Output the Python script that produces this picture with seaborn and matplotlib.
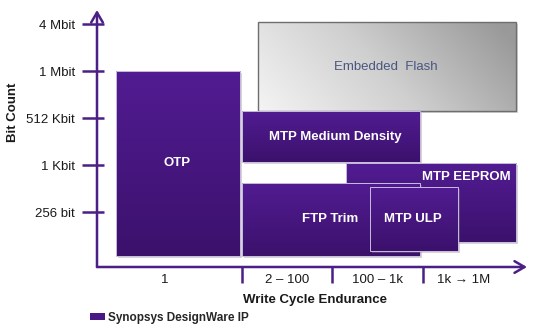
import numpy as np
import matplotlib
matplotlib.use("Agg")
import matplotlib.pyplot as plt
import matplotlib.patheffects as pe
from matplotlib.colors import LinearSegmentedColormap
from matplotlib.patches import Patch
import seaborn as sns

# ---------------- data ----------------
categories = ["1", "2 – 100", "100 – 1k", "1k → 1M"]
cat_bounds = [0.0, 1.6, 2.6, 3.6, 4.6]
cat_label_pos = [0.75, 2.1, 3.1, 4.05]
bit_labels = ["256 bit", "1 Kbit", "512 Kbit", "1 Mbit", "4 Mbit"]
bit_pos = [0, 1, 2, 3, 4]

blocks = ["Embedded  Flash", "OTP", "MTP Medium Density", "MTP EEPROM", "FTP Trim", "MTP ULP"]
x_start = [1.78, 0.21, 1.60, 2.75, 1.60, 3.02]
x_end = [4.63, 1.58, 3.57, 4.63, 3.57, 3.99]
y_low = [2.15, -0.94, 1.06, -0.64, -0.94, -0.83]
y_high = [4.04, 3.00, 2.15, 1.04, 0.62, 0.53]
is_designware = [False, True, True, True, True, True]
label_x = [3.19, 0.88, 2.63, 4.08, 2.57, 3.49]
label_y = [3.09, 1.04, 1.60, 0.745, -0.15, -0.15]

# ---------------- style ----------------
sns.set_theme(style="white")
plt.rcParams["font.family"] = ["Liberation Sans", "DejaVu Sans"]

AX = "#4b1f86"
PURPLE = "#481886"
purple_cmap = LinearSegmentedColormap.from_list("p", ["#3b116c", "#521c92"])
gray_cmap = LinearSegmentedColormap.from_list("g", ["#f4f4f4", "#cfcfcf", "#999999"])

fig = plt.figure(figsize=(5.39, 3.33), dpi=100)
ax = fig.add_axes([97 / 539, 66 / 333, 430 / 539, 257 / 333])
XMAX, YMIN, YMAX = 4.75, -1.17, 4.30

widths = np.subtract(x_end, x_start)
heights = np.subtract(y_high, y_low)
face = [PURPLE if d else "#cccccc" for d in is_designware]

bars = ax.bar(x_start, heights, width=widths, bottom=y_low, align="edge",
              color=face, linewidth=0)
outl = ax.bar(x_start, heights, width=widths, bottom=y_low, align="edge",
              fill=False,
              edgecolor=["#6e6e6e" if not d else "#c9bddf" for d in is_designware],
              linewidth=[1.0 if not d else 0.7 for d in is_designware])

for i, (b, o) in enumerate(zip(bars, outl)):
    z = 2 + i
    b.set_zorder(z)
    b.set_path_effects([pe.SimplePatchShadow(offset=(1.5, -1.5), shadow_rgbFace="#888888", alpha=0.35), pe.Normal()])
    ext = (x_start[i], x_end[i], y_low[i], y_high[i])
    if is_designware[i]:
        arr = np.linspace(0, 1, 128).reshape(-1, 1)
        im = ax.imshow(arr, extent=ext, origin="lower", cmap=purple_cmap, aspect="auto", zorder=z + 0.1)
    else:
        gx, gy = np.meshgrid(np.linspace(0, 1, 200), np.linspace(0, 1, 100))
        arr = np.clip(0.8 * gx + 0.25 * gy, 0, 1)
        im = ax.imshow(arr, extent=ext, origin="lower", cmap=gray_cmap, aspect="auto", zorder=z + 0.1)
    im.set_clip_path(b)
    o.set_zorder(z + 0.2)
    if is_designware[i]:
        ax.text(label_x[i], label_y[i], blocks[i], ha="center", va="center", color="white",
                fontsize=9.5, fontweight="bold", zorder=z + 0.3)
    else:
        ax.text(label_x[i], label_y[i], blocks[i], ha="center", va="center", color="#4a5680",
                fontsize=9.5, zorder=z + 0.3)

ax.set_xlim(0, XMAX)
ax.set_ylim(YMIN, YMAX)
for s in ax.spines.values():
    s.set_visible(False)
ax.grid(False)
ax.set_facecolor("none")

# axes arrows
arrow = dict(arrowstyle="->,head_length=0.6,head_width=0.35", color=AX, lw=1.8, shrinkA=0, shrinkB=0)
ax.annotate("", xy=(XMAX, YMIN), xytext=(0, YMIN), arrowprops=arrow, annotation_clip=False)
ax.annotate("", xy=(0, YMAX), xytext=(0, YMIN), arrowprops=arrow, annotation_clip=False)

# y ticks
ax.set_yticks(bit_pos)
ax.set_yticklabels(bit_labels)
ax.set_yticks(bit_pos, minor=True)
ax.yaxis.remove_overlapping_locs = False
ax.tick_params(axis="y", which="major", left=True, direction="out", length=10.8, width=1.8,
               color=AX, pad=5, labelsize=9.5, labelcolor="#1a1a1a")
ax.tick_params(axis="y", which="minor", left=True, direction="in", length=5, width=1.8, color=AX)

# x ticks
ax.set_xticks(cat_bounds[1:4])
ax.set_xticklabels([])
ax.set_xticks(cat_label_pos, minor=True)
ax.set_xticklabels(categories, minor=True)
ax.tick_params(axis="x", which="major", bottom=True, direction="out", length=11.5, width=1.8, color=AX)
ax.tick_params(axis="x", which="minor", bottom=True, length=0, pad=5, labelsize=9.5, labelcolor="#1a1a1a")

fig.text(13 / 539, 1 - 112 / 333, "Bit Count", rotation=90, ha="center", va="center",
         fontsize=9.5, fontweight="bold", color="#1a1a1a")
fig.text(315 / 539, 1 - 300 / 333, "Write Cycle Endurance", ha="center", va="center",
         fontsize=9.5, fontweight="bold", color="#1a1a1a")

fig.legend(handles=[Patch(facecolor=PURPLE, edgecolor="none")], labels=["Synopsys DesignWare IP"],
           loc="center left", bbox_to_anchor=(90 / 539, 1 - 318 / 333), bbox_transform=fig.transFigure,
           frameon=False, handlelength=1.3, handleheight=0.55, handletextpad=0.25,
           borderpad=0, borderaxespad=0, prop=dict(weight="bold", size=8.5))

fig.savefig("out.png", dpi=100)
